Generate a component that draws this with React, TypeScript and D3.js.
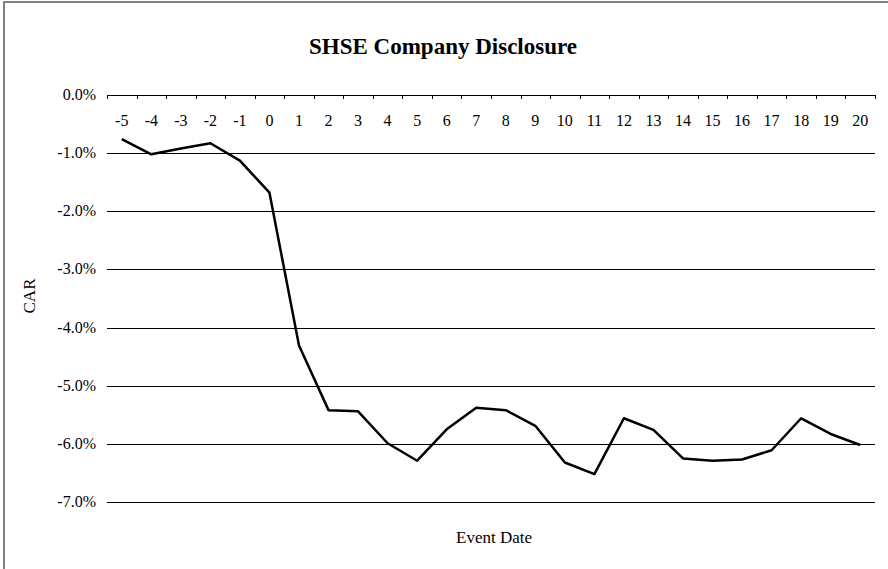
import React from 'react';
import * as d3 from 'd3';

// event days and the cumulative abnormal return (in %)
const eventDays = ['-5', '-4', '-3', '-2', '-1', '0', '1', '2', '3', '4', '5', '6', '7', '8', '9', '10', '11', '12', '13', '14', '15', '16', '17', '18', '19', '20'];
const carValues = [-0.76, -1.02, -0.92, -0.83, -1.13, -1.68, -4.31, -5.42, -5.44, -5.99, -6.29, -5.75, -5.38, -5.42, -5.69, -6.32, -6.52, -5.56, -5.76, -6.25, -6.29, -6.27, -6.11, -5.56, -5.83, -6.02];
const yTicks = [0, -1, -2, -3, -4, -5, -6, -7];

const W = 888;
const H = 569;
const FONT = '"Liberation Serif", "DejaVu Serif", serif';

// plain hyphen for negatives, like the original
const pct = (v: number) => `${v.toFixed(1)}%`;

export default function App() {
  const x = d3.scaleBand<string>().domain(eventDays).range([107, 875]).padding(0);
  const y = d3.scaleLinear().domain([0, -7]).range([95, 502]);

  const line = d3.line<number>()
    .x((_, i) => (x(eventDays[i]) as number) + x.bandwidth() / 2)
    .y(d => y(d));

  // tick marks sit on the band boundaries
  const boundaries = eventDays.map(d => x(d) as number).concat([x.range()[1]]);

  return (
    <svg width={W} height={H} style={{ position: 'absolute', left: 0, top: 0, background: '#fff' }} fontFamily={FONT}>
      <rect x={4} y={2} width={W + 20} height={H + 20} fill="#fff" stroke="#808080" strokeWidth={2} />

      <text x={443} y={54} textAnchor="middle" fontSize={23} fontWeight="bold">SHSE Company Disclosure</text>

      {/* gridlines and y labels */}
      {yTicks.map(t => (
        <g key={t}>
          <line x1={107} x2={875} y1={Math.round(y(t)) + 0.5} y2={Math.round(y(t)) + 0.5} stroke="#000" strokeWidth={1} />
          <text x={96} y={y(t) + 5} textAnchor="end" fontSize={16}>{pct(t)}</text>
        </g>
      ))}

      {/* category ticks on the zero axis */}
      {boundaries.map((b, i) => (
        <line key={i} x1={Math.round(b) + 0.5} x2={Math.round(b) + 0.5} y1={95} y2={99} stroke="#000" strokeWidth={1} />
      ))}

      {eventDays.map(d => (
        <text key={d} x={(x(d) as number) + x.bandwidth() / 2} y={126} textAnchor="middle" fontSize={16}>{d}</text>
      ))}

      <path d={line(carValues) || ''} fill="none" stroke="#000" strokeWidth={2.5} strokeLinejoin="round" />

      <text transform="translate(35,296) rotate(-90)" textAnchor="middle" fontSize={17}>CAR</text>
      <text x={494} y={543} textAnchor="middle" fontSize={17}>Event Date</text>
    </svg>
  );
}
